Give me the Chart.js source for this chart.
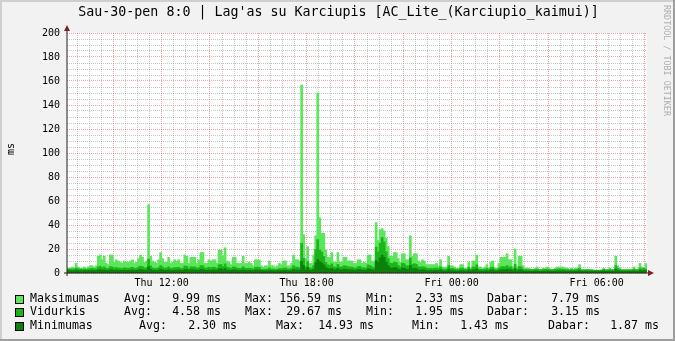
<!DOCTYPE html>
<html><head><meta charset="utf-8">
<script src="https://cdn.jsdelivr.net/npm/chart.js@4.4.1/dist/chart.umd.min.js"></script>
<style>html,body{margin:0;padding:0;background:#f2f2f2;overflow:hidden}#wrap{width:675px;height:341px}</style>
</head><body><div id="wrap"><canvas id="c" width="675" height="341"></canvas></div>
<script>
const chartTitle = "Sau-30-pen 8:0 | Lag'as su Karciupis [AC_Lite_(Karciupio_kaimui)]";
const yAxisTitle = 'ms';
const watermark = 'RRDTOOL / TOBI OETIKER';
const startMinute = 485;   // Thu 08:05
const stepMinutes = 5;

const maksimumas = [
  4,4,5,4,8,5,4,4,5,4, 5,6,6,5,6,14,15,11,14,8, 7,15,15,9,11,10,9,8,10,9, 9,10,11,8,9,12,15,13,9,10,
  57,14,10,9,8,11,17,12,9,9, 13,8,9,11,10,11,8,8,15, 14,8,13,13,13,8,11,17,17,8, 8,11,10,11,11,8,19,19,14,21,
  10,9,7,13,13,8,8,8,14,8, 8,9,8,6,11,11,11,6,5,6, 6,10,6,6,5,6,8,7,10,10, 6,6,8,15,11,11,10,156.59,32,12,
  22,8,8,15,31,150,46,33,33,19, 13,13,17,9,9,17,9,9,13,13, 10,10,10,8,8,11,11,8,9,8, 15,15,10,9,42,27,36,37,35,29,
  22,14,14,17,17,12,9,16,16,11, 11,31,14,16,16,10,9,11,10,7, 7,7,7,7,8,6,11,5,5,5, 14,6,6,5,4,4,7,7,4,4,
  9,4,10,10,15,5,5,4,5,7, 4,9,10,4,4,8,13,13,13,16, 11,11,5,20,5,14,14,6,4,4, 4,3,3,4,5,3,3,4,4,5,
  4,3,3,4,5,5,5,5,4,4, 3,4,3,4,4,7,3,3,3,3, 3.1,2.8,2.5,2.4,2.4,2.33,2.6,4,3, 3,4,3,3,14,6,4,3,3,3,
  3,3,3,5,3,3,8,5,4,7.79
];
const vidurkis = [
  3.2,3.4,3.1,3.5,4.2,3.6,3.2,3.0,3.4,3.1, 3.3,3.6,3.9,3.4,3.5,5.2,5.6,4.4,5.1,4.0, 3.8,5.3,5.0,4.1,4.6,4.2,4.0,3.8,4.4,4.1, 4.0,4.3,4.8,3.9,4.1,5.0,5.8,5.2,4.2,4.3,
  11.5,6.1,4.3,4.0,3.8,4.6,6.2,5.0,4.1,4.2, 5.1,3.9,4.2,4.6,4.5,4.8,3.9,4.0,5.9, 5.6,4.0,5.2,5.0,5.1,4.1,4.5,6.2,6.0,4.2, 4.1,4.8,4.3,4.9,4.7,4.0,6.8,7.1,5.3,7.6,
  4.9,4.4,3.8,5.1,5.0,4.1,3.9,4.0,5.2,4.1, 3.9,4.1,3.9,3.3,4.8,4.9,4.7,3.3,3.0,3.2, 3.2,4.2,3.3,3.2,3.0,3.3,3.8,3.5,4.1,4.3, 3.4,3.3,4.0,6.1,5.0,4.8,4.4,24.8,12.3,5.2,
  9.4,4.3,4.1,6.2,19.6,27.8,19.2,17.6,13.8,8.9, 6.8,6.2,7.6,5.1,4.8,7.2,5.0,4.9,6.1,5.8, 5.2,4.9,5.0,4.2,4.1,5.3,5.6,4.3,4.4,4.1, 6.8,6.2,5.1,4.4,21.6,17.5,24.8,29.67,25.9,17.8,
  12.1,8.2,7.9,9.1,8.8,6.3,5.1,8.2,7.8,6.0, 5.9,12.4,7.1,7.8,7.2,5.2,4.8,5.3,5.0,4.1, 3.9,4.0,3.8,4.1,4.2,3.7,5.0,3.3,3.1,3.2, 6.2,3.8,3.9,3.3,2.9,3.0,4.1,4.0,3.1,2.9,
  4.8,3.0,5.1,4.9,6.8,3.2,3.1,2.9,3.1,3.8, 3.0,4.6,5.0,3.1,2.9,4.0,5.2,5.4,5.1,6.1, 5.0,5.2,3.1,7.2,3.0,5.3,5.1,3.2,2.9,2.8, 2.8,2.7,2.8,2.9,3.2,2.7,2.6,2.9,3.0,3.1,
  2.9,2.7,2.8,3.0,3.3,3.4,3.2,3.1,2.9,2.8, 2.6,2.9,2.7,2.8,2.9,4.0,2.6,2.5,2.6,2.7, 2.6,2.5,2.3,2.2,2.2,2.3,2.4,3.0,2.6, 2.5,2.9,2.6,2.5,6.1,3.9,3.0,2.6,2.5,2.6,
  2.5,2.6,2.6,3.3,2.6,2.7,4.2,3.4,4.0,3.15
];
const minimumas = [
  1.9,2.0,1.8,2.1,2.3,2.0,1.9,1.8,2.0,1.9, 2.0,2.1,2.2,2.0,2.0,2.6,2.8,2.3,2.6,2.2, 2.1,2.7,2.6,2.2,2.4,2.3,2.2,2.1,2.3,2.2, 2.2,2.3,2.5,2.1,2.2,2.6,3.0,2.7,2.2,2.3,
  5.2,3.1,2.3,2.2,2.1,2.4,3.1,2.6,2.2,2.2, 2.6,2.1,2.2,2.4,2.3,2.5,2.1,2.1,3.0, 2.9,2.1,2.7,2.6,2.6,2.2,2.4,3.1,3.0,2.2, 2.2,2.5,2.3,2.5,2.4,2.1,3.4,3.5,2.7,3.7,
  2.5,2.3,2.1,2.6,2.6,2.2,2.1,2.2,2.7,2.2, 2.1,2.2,2.1,1.9,2.5,2.5,2.4,1.9,1.8,1.8, 1.8,2.2,1.9,1.8,1.7,1.9,2.1,2.0,2.2,2.3, 1.9,1.9,2.2,3.1,2.6,2.5,2.4,9.8,6.2,2.8,
  4.8,2.4,2.3,3.2,8.6,11.2,9.6,8.4,6.9,4.6, 3.6,3.3,3.9,2.8,2.6,3.7,2.7,2.6,3.2,3.0, 2.8,2.6,2.7,2.3,2.2,2.8,2.9,2.3,2.4,2.2, 3.5,3.2,2.7,2.4,10.4,8.8,12.6,14.93,13.1,9.0,
  6.1,4.2,4.0,4.6,4.5,3.3,2.7,4.2,4.0,3.1, 3.0,6.3,3.7,4.0,3.7,2.7,2.5,2.8,2.6,2.2, 2.1,2.1,2.0,2.2,2.2,2.0,2.6,1.8,1.7,1.7, 3.2,2.0,2.1,1.8,1.6,1.6,2.2,2.1,1.7,1.6,
  2.5,1.6,2.6,2.5,3.4,1.7,1.7,1.6,1.7,2.0, 1.6,2.4,2.6,1.7,1.6,2.1,2.7,2.8,2.6,3.1, 2.6,2.7,1.7,3.6,1.6,2.7,2.6,1.7,1.6,1.5, 1.5,1.5,1.5,1.6,1.7,1.5,1.4,1.6,1.6,1.7,
  1.6,1.5,1.5,1.6,1.8,1.8,1.7,1.7,1.6,1.5, 1.5,1.6,1.5,1.5,1.6,2.1,1.43,1.5,1.5,1.5, 1.5,1.5,1.5,1.5,1.5,1.5,1.5,1.7,1.5, 1.5,1.6,1.5,1.5,3.2,2.1,1.7,1.5,1.5,1.5,
  1.5,1.5,1.5,1.8,1.5,1.5,2.2,1.8,2.1,1.87
];

const yTickValues = [0,20,40,60,80,100,120,140,160,180,200];
const xTickTimes = [720, 1080, 1440, 1800];
const xTickLabels = ['Thu 12:00', 'Thu 18:00', 'Fri 00:00', 'Fri 06:00'];

const seriesNames = ['Maksimumas', 'Vidurkis', 'Minimumas'];
const statAvg = ['9.99', '4.58', '2.30'];
const statMax = ['156.59', '29.67', '14.93'];
const statMin = ['2.33', '1.95', '1.43'];
const statCur = ['7.79', '3.15', '1.87'];
const unit = 'ms';

const seriesColors = ['#5BE65B', '#1CB51C', '#0B800B'];
const minorGrid = 'rgba(143,143,143,0.5)';
const majorGrid = 'rgba(222,79,79,0.5)';
const MONO = '"DejaVu Sans Mono", monospace';

const toPoints = arr => arr.map((v, i) => ({ x: startMinute + (i + 0.5) * stepMinutes, y: v }));
const datasets = [maksimumas, vidurkis, minimumas].map((arr, k) => ({
  label: seriesNames[k],
  data: toPoints(arr),
  backgroundColor: seriesColors[k],
  borderWidth: 0,
  barPercentage: 1,
  categoryPercentage: 1,
  grouped: false,
  order: 3 - k
}));
const endMinute = startMinute + maksimumas.length * stepMinutes;

const rrdPlugin = {
  id: 'rrd',
  beforeDraw(chart) {
    const { ctx, chartArea: a } = chart;
    ctx.save();
    ctx.fillStyle = '#F2F2F2'; ctx.fillRect(0, 0, 675, 341);
    ctx.fillStyle = '#FFFFFF'; ctx.fillRect(a.left, a.top, a.right - a.left, a.bottom - a.top);
    ctx.fillStyle = '#CFCFCF'; ctx.fillRect(0, 0, 675, 2); ctx.fillRect(0, 0, 2, 341);
    ctx.fillStyle = '#9E9E9E'; ctx.fillRect(0, 339, 675, 2); ctx.fillRect(673, 0, 2, 341);
    ctx.restore();
  },
  afterDraw(chart) {
    const { ctx, chartArea: a } = chart;
    ctx.save();
    // axes
    ctx.strokeStyle = '#1F1F1F'; ctx.lineWidth = 1;
    ctx.beginPath();
    ctx.moveTo(a.left, a.bottom + 3); ctx.lineTo(a.left, a.top - 4);
    ctx.moveTo(a.left - 3, a.bottom); ctx.lineTo(a.right + 3, a.bottom);
    ctx.stroke();
    ctx.fillStyle = '#801F1F';
    ctx.beginPath();
    ctx.moveTo(a.left, a.top - 8); ctx.lineTo(a.left - 3, a.top - 2); ctx.lineTo(a.left + 3, a.top - 2); ctx.closePath(); ctx.fill();
    ctx.beginPath();
    ctx.moveTo(a.right + 7, a.bottom); ctx.lineTo(a.right + 1, a.bottom - 3); ctx.lineTo(a.right + 1, a.bottom + 3); ctx.closePath(); ctx.fill();
    // title
    ctx.fillStyle = '#000';
    ctx.font = '13.3px ' + MONO;
    ctx.textAlign = 'center'; ctx.textBaseline = 'middle';
    ctx.fillText(chartTitle, 338.5, 13);
    // y axis title
    ctx.save();
    ctx.translate(11, 149); ctx.rotate(-Math.PI / 2);
    ctx.font = '10px ' + MONO;
    ctx.fillText(yAxisTitle, 0, 0);
    ctx.restore();
    // watermark
    ctx.save();
    ctx.translate(666, 5); ctx.rotate(Math.PI / 2);
    ctx.font = '8.4px ' + MONO; ctx.fillStyle = 'rgba(0,0,0,0.3)';
    ctx.textAlign = 'left';
    ctx.fillText(watermark, 0, 0);
    ctx.restore();
    // legend
    const rowY = [298.5, 312, 325.5];
    const cols = [
      { avgL: 124, avgR: 221, maxL: 245, maxR: 342, minL: 366, minR: 464, curL: 487, curR: 600 },
      { avgL: 124, avgR: 221, maxL: 245, maxR: 342, minL: 366, minR: 464, curL: 487, curR: 600 },
      { avgL: 139, avgR: 237, maxL: 276, maxR: 374, minL: 412, minR: 509, curL: 548, curR: 659 }
    ];
    ctx.font = '11.6px ' + MONO;
    ctx.textBaseline = 'middle';
    for (let k = 0; k < 3; k++) {
      const y = rowY[k], c = cols[k];
      ctx.fillStyle = seriesColors[k];
      ctx.fillRect(15, Math.round(y) - 4, 9, 9);
      ctx.strokeStyle = '#000'; ctx.lineWidth = 1;
      ctx.strokeRect(15.5, Math.round(y) - 3.5, 8, 8);
      ctx.fillStyle = '#000';
      ctx.textAlign = 'left';
      ctx.fillText(seriesNames[k], 30, y);
      ctx.fillText('Avg:', c.avgL, y);
      ctx.fillText('Max:', c.maxL, y);
      ctx.fillText('Min:', c.minL, y);
      ctx.fillText('Dabar:', c.curL, y);
      ctx.textAlign = 'right';
      ctx.fillText(statAvg[k] + ' ' + unit, c.avgR, y);
      ctx.fillText(statMax[k] + ' ' + unit, c.maxR, y);
      ctx.fillText(statMin[k] + ' ' + unit, c.minR, y);
      ctx.fillText(statCur[k] + ' ' + unit, c.curR, y);
    }
    ctx.restore();
  }
};

new Chart(document.getElementById('c'), {
  type: 'bar',
  data: { datasets },
  options: {
    responsive: false, animation: false, devicePixelRatio: 1,
    layout: { padding: { left: 0, right: 28, top: 33, bottom: 48 } },
    plugins: { legend: { display: false }, tooltip: { enabled: false }, title: { display: false } },
    scales: {
      x: {
        type: 'linear', min: startMinute, max: endMinute, offset: false,
        afterBuildTicks: s => {
          const t = [];
          for (let m = Math.ceil(startMinute / 30) * 30; m < endMinute; m += 30) t.push({ value: m });
          s.ticks = t;
        },
        afterFit: s => { s.height = 20; },
        ticks: {
          autoSkip: false, maxRotation: 0, padding: 4, color: '#000',
          font: { family: MONO, size: 10 },
          callback: v => { const k = xTickTimes.indexOf(v); return k >= 0 ? xTickLabels[k] : ''; }
        },
        grid: { drawTicks: false, offset: false, lineWidth: 1,
          color: c => (c.tick && c.tick.value % 120 === 0) ? majorGrid : minorGrid },
        border: { display: false, dash: [1, 1] }
      },
      y: {
        type: 'linear', min: 0, max: 200,
        afterBuildTicks: s => {
          const t = [];
          for (let v = 0; v <= 200; v += 5) t.push({ value: v });
          s.ticks = t;
        },
        afterFit: s => { s.width = 67; },
        ticks: {
          autoSkip: false, padding: 7, color: '#000',
          font: { family: MONO, size: 10 },
          callback: v => yTickValues.includes(v) ? String(v) : ''
        },
        grid: { drawTicks: false, lineWidth: 1,
          color: c => (c.tick && c.tick.value % 20 === 0) ? majorGrid : minorGrid },
        border: { display: false, dash: [1, 1] }
      }
    }
  },
  plugins: [rrdPlugin]
});
</script>
</body></html>
